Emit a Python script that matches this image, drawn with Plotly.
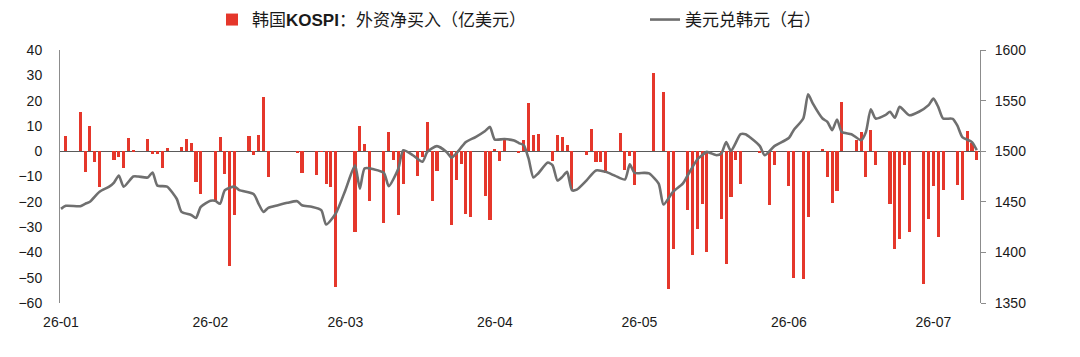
import plotly.graph_objects as go

# ---- data: KOSPI foreign net buying (100m USD), trading days ----
bar_dates = [
    "2026-01-02", "2026-01-05", "2026-01-06", "2026-01-07", "2026-01-08", "2026-01-09",
    "2026-01-12", "2026-01-13", "2026-01-14", "2026-01-15", "2026-01-16",
    "2026-01-19", "2026-01-20", "2026-01-21", "2026-01-22", "2026-01-23",
    "2026-01-26", "2026-01-27", "2026-01-28", "2026-01-29", "2026-01-30",
    "2026-02-02", "2026-02-03", "2026-02-04", "2026-02-05", "2026-02-06",
    "2026-02-09", "2026-02-10", "2026-02-11", "2026-02-12", "2026-02-13",
    "2026-02-19", "2026-02-20",
    "2026-02-23", "2026-02-24", "2026-02-25", "2026-02-26", "2026-02-27",
    "2026-03-03", "2026-03-04", "2026-03-05", "2026-03-06",
    "2026-03-09", "2026-03-10", "2026-03-11", "2026-03-12", "2026-03-13",
    "2026-03-16", "2026-03-17", "2026-03-18", "2026-03-19", "2026-03-20",
    "2026-03-23", "2026-03-24", "2026-03-25", "2026-03-26", "2026-03-27",
    "2026-03-30", "2026-03-31", "2026-04-01", "2026-04-02", "2026-04-03",
    "2026-04-06", "2026-04-07", "2026-04-08", "2026-04-09", "2026-04-10",
    "2026-04-13", "2026-04-14", "2026-04-15", "2026-04-16", "2026-04-17",
    "2026-04-20", "2026-04-21", "2026-04-22", "2026-04-23", "2026-04-24",
    "2026-04-27", "2026-04-28", "2026-04-29", "2026-04-30",
    "2026-05-04", "2026-05-06", "2026-05-07", "2026-05-08",
    "2026-05-11", "2026-05-12", "2026-05-13", "2026-05-14", "2026-05-15",
    "2026-05-18", "2026-05-19", "2026-05-20", "2026-05-21", "2026-05-22",
    "2026-05-26", "2026-05-28", "2026-05-29",
    "2026-06-01", "2026-06-02", "2026-06-04", "2026-06-05",
    "2026-06-08", "2026-06-09", "2026-06-10", "2026-06-11", "2026-06-12",
    "2026-06-15", "2026-06-16", "2026-06-17", "2026-06-18", "2026-06-19",
    "2026-06-22", "2026-06-23", "2026-06-24", "2026-06-25", "2026-06-26",
    "2026-06-29", "2026-06-30", "2026-07-01", "2026-07-02", "2026-07-03",
    "2026-07-06", "2026-07-07", "2026-07-08", "2026-07-09", "2026-07-10",
]
bar_values = [
    6.1, 15.4, -8.2, 10.0, -4.2, -14.1,
    -3.3, -2.2, -6.6, 5.3, 0.5,
    5.0, -1.0, -1.0, -6.5, 1.3,
    1.7, 4.9, 3.3, -12.1, -17.0,
    -20.0, 5.5, -9.1, -45.3, -25.3,
    6.1, -1.6, 6.3, 21.5, -10.1,
    -0.5, -8.8,
    -9.5, -0.3, -12.8, -14.1, -53.6,
    -31.9, 10.0, 2.9, -19.6,
    -28.3, 7.5, -3.3, -25.3, -12.8,
    -9.9, -2.2, 11.7, -19.6, -7.9,
    -29.2, -11.5, -4.9, -24.9, -26.0,
    -17.8, -27.3, 0.8, -4.0, 4.6,
    -0.9, 4.3, 19.1, 6.3, 6.7,
    -3.8, 6.3, 5.7, 2.5, -14.8,
    -1.6, 8.7, -4.2, -4.2, -8.6,
    7.0, -7.5, -1.8, -13.4,
    31.1, 23.5, -54.3, -38.5,
    -23.3, -41.1, -30.8, -20.7, -39.8,
    -26.9, -44.7, -18.0, -3.3, -12.8,
    -0.7, -21.3, -5.5,
    -13.7, -50.2, -50.7, -26.0,
    1.0, -10.1, -20.4, -15.7, 19.5,
    4.3, 7.5, -10.1, 8.3, -5.5,
    -20.9, -38.6, -34.7, -5.5, -31.9,
    -52.6, -26.6, -13.8, -33.9, -15.4,
    -13.2, -19.1, 8.0, 3.3, -3.6,
]

# ---- data: USD/KRW (right axis) ----
fx_dates = [
    "2026-01-01", "2026-01-02", "2026-01-05", "2026-01-06", "2026-01-07", "2026-01-09",
    "2026-01-11", "2026-01-12", "2026-01-13", "2026-01-14", "2026-01-16", "2026-01-17",
    "2026-01-19", "2026-01-20", "2026-01-21", "2026-01-23", "2026-01-25", "2026-01-26",
    "2026-01-28", "2026-01-29", "2026-01-30", "2026-02-01", "2026-02-02", "2026-02-03",
    "2026-02-04", "2026-02-06", "2026-02-07", "2026-02-10", "2026-02-11", "2026-02-12",
    "2026-02-13", "2026-02-15", "2026-02-17", "2026-02-19", "2026-02-20", "2026-02-22",
    "2026-02-24", "2026-02-25", "2026-02-27", "2026-03-01", "2026-03-03", "2026-03-04",
    "2026-03-05", "2026-03-07", "2026-03-09", "2026-03-10", "2026-03-12", "2026-03-13",
    "2026-03-15", "2026-03-17", "2026-03-18", "2026-03-20", "2026-03-22", "2026-03-23",
    "2026-03-24", "2026-03-26", "2026-03-28", "2026-03-30", "2026-03-31", "2026-04-01",
    "2026-04-03", "2026-04-05", "2026-04-06", "2026-04-07", "2026-04-08", "2026-04-09",
    "2026-04-10", "2026-04-12", "2026-04-13", "2026-04-14", "2026-04-15", "2026-04-16",
    "2026-04-17", "2026-04-18", "2026-04-20", "2026-04-22", "2026-04-24", "2026-04-26",
    "2026-04-28", "2026-04-29", "2026-04-30", "2026-05-02", "2026-05-03", "2026-05-05",
    "2026-05-06", "2026-05-08", "2026-05-10", "2026-05-11", "2026-05-13", "2026-05-14",
    "2026-05-15", "2026-05-17", "2026-05-18", "2026-05-19", "2026-05-20", "2026-05-22",
    "2026-05-23", "2026-05-24", "2026-05-26", "2026-05-27", "2026-05-29", "2026-06-01",
    "2026-06-02", "2026-06-04", "2026-06-05", "2026-06-06", "2026-06-08", "2026-06-09",
    "2026-06-10", "2026-06-11", "2026-06-12", "2026-06-14", "2026-06-16", "2026-06-17",
    "2026-06-18", "2026-06-19", "2026-06-21", "2026-06-22", "2026-06-23", "2026-06-24",
    "2026-06-26", "2026-06-28", "2026-06-30", "2026-07-01", "2026-07-02", "2026-07-03",
    "2026-07-05", "2026-07-06", "2026-07-07", "2026-07-09", "2026-07-10",
]
fx_values = [
    1443, 1446, 1445.7, 1448, 1450, 1460,
    1465, 1469, 1476, 1465, 1475, 1475,
    1474, 1479, 1466, 1465, 1453, 1440,
    1437, 1434, 1445, 1451, 1451, 1448,
    1461.5, 1465, 1461.5, 1457.5, 1448, 1440,
    1444, 1446.6, 1449, 1450.6, 1446.6, 1445,
    1441.7, 1427.5, 1438.4, 1461.5, 1486, 1463,
    1483, 1482, 1478.6, 1465.4, 1483, 1501,
    1496, 1489.5, 1499.3, 1505, 1499.3, 1493.7,
    1497.7, 1509, 1514, 1520, 1524, 1511.5,
    1512, 1510.5, 1508, 1506, 1492.8, 1474,
    1478, 1488.8, 1486, 1471, 1474.6, 1479.6,
    1461.5, 1462, 1471, 1481, 1479.6, 1475.6,
    1472, 1487, 1478.6, 1478.6, 1478, 1468,
    1447.3, 1460, 1468, 1476, 1491.8, 1496,
    1499.3, 1496, 1497.7, 1509, 1500.3, 1516.8,
    1516.8, 1513.5, 1505, 1496, 1505, 1513,
    1520.8, 1532.3, 1556.3, 1547, 1532.3, 1529,
    1520.8, 1531.3, 1519, 1516.8, 1510.9, 1519,
    1541.5, 1532.3, 1535.6, 1539, 1533, 1543.8,
    1535.6, 1539, 1545.5, 1552, 1543.8, 1532.3,
    1532, 1525, 1514, 1509, 1501,
]

bar_name = "韩国<b>KOSPI</b>：外资净买入（亿美元）"
line_name = "美元兑韩元（右）"

FONT = "Liberation Sans, Arial, Noto Sans CJK SC, sans-serif"
RED = "#E5372B"
GREY = "#6F6F6F"
AXIS = "#8C8C8C"

fig = go.Figure()
fig.add_trace(go.Bar(
    x=bar_dates, y=bar_values, name=bar_name,
    marker=dict(color=RED, line=dict(width=0)),
    width=0.64 * 86400000,
    legend="legend",
))
fig.add_trace(go.Scatter(
    x=fx_dates, y=fx_values, name=line_name, yaxis="y2",
    mode="lines", line=dict(color=GREY, width=2.6, shape="spline", smoothing=0.6),
    legend="legend2",
))

fig.update_layout(
    width=1080, height=357,
    margin=dict(l=60, r=100, t=50, b=54, autoexpand=False),
    paper_bgcolor="white", plot_bgcolor="white",
    font=dict(family=FONT, size=14, color="#1a1a1a"),
    bargap=0,
    showlegend=True,
    legend=dict(orientation="h", xref="container", x=212 / 1080, xanchor="left",
                yref="container", y=1 - 20 / 357, yanchor="middle",
                font=dict(size=17, color="#1a1a1a"), bgcolor="rgba(0,0,0,0)"),
    legend2=dict(orientation="h", xref="container", x=645 / 1080, xanchor="left",
                 yref="container", y=1 - 20 / 357, yanchor="middle",
                 font=dict(size=17, color="#1a1a1a"), bgcolor="rgba(0,0,0,0)"),
    xaxis=dict(
        type="date",
        range=["2025-12-31 19:00", "2026-07-10 16:00"],
        tick0="2026-01-01", dtick="M1", tickformat="%y-%m",
        showgrid=False, showline=False, zeroline=False, ticks="",
        ticklabelstandoff=9,
        tickfont=dict(size=14, color="#1a1a1a"),
    ),
    yaxis=dict(
        range=[-60, 40], dtick=10, tick0=0,
        showgrid=False, showline=True, linecolor=AXIS, linewidth=1,
        zeroline=True, zerolinecolor="#5a5a5a", zerolinewidth=1,
        ticks="", ticklabelstandoff=14,
        tickfont=dict(size=14, color="#1a1a1a"),
    ),
    yaxis2=dict(
        range=[1350, 1600], dtick=50, tick0=1350,
        overlaying="y", side="right",
        showgrid=False, showline=True, linecolor=AXIS, linewidth=1,
        zeroline=False, ticks="outside", ticklen=5, tickcolor=AXIS,
        ticklabelstandoff=6,
        tickfont=dict(size=14, color="#1a1a1a"),
    ),
)

fig.write_html("out.html")
